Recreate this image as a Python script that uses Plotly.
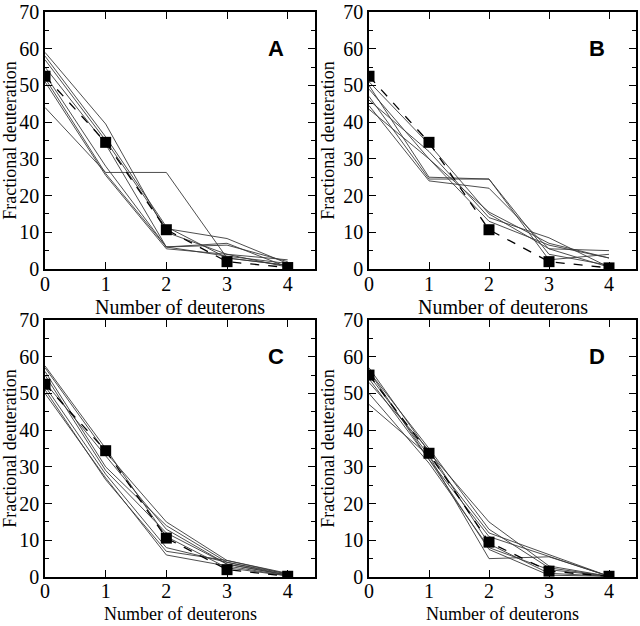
import plotly.graph_objects as go

x_vals = [0, 1, 2, 3, 4]

# Panel A
a_mean = [52.5, 34.5, 10.7, 2.0, 0.4]
a_lines = [
    [59, 39.5, 10, 4, 0.5],
    [58, 36, 11.5, 3, 1],
    [57, 35, 11, 8.3, 1.5],
    [55, 34, 6, 7, 0.5],
    [53, 28, 6, 6.5, 2],
    [51, 25.5, 5.5, 4, 2.5],
    [44, 26.3, 26.3, 3, 1],
    [52, 26, 6, 3.5, 1.5],
]
# Panel B
b_mean = [52.5, 34.5, 10.7, 2.0, 0.3]
b_lines = [
    [51, 34, 15, 5.5, 0.5],
    [50, 25, 24.5, 4, 1],
    [49, 30, 13, 6.5, 3],
    [47, 24.5, 24.5, 2.5, 4],
    [46, 32, 14, 8.5, 0.5],
    [44.5, 24, 22, 5.5, 5],
    [43.5, 30, 15.5, 7, 3],
]
# Panel C
c_mean = [52.5, 34.4, 10.6, 2.0, 0.2]
c_lines = [
    [57.5, 35, 11, 2.5, 0.3],
    [57, 34, 15, 4.5, 1],
    [56, 30, 14, 4, 0.8],
    [55, 29, 12, 3.5, 0.5],
    [52, 28, 8, 4, 0.5],
    [51, 26.5, 7, 4.5, 0.8],
    [50, 27, 6, 3, 0.3],
    [53, 33, 13, 3.5, 0.5],
]
# Panel D
d_mean = [55, 33.7, 9.5, 1.6, 0.2]
d_lines = [
    [57, 34, 15, 3, 0.2],
    [56, 35, 13, 2.5, 0.2],
    [55, 33, 12, 6, 0.2],
    [54, 32, 11, 5.5, 0.2],
    [53, 34.5, 9, 1, 0.2],
    [50, 31, 8, 2, 0.2],
    [47, 33, 5, 5.5, 0.2],
    [56, 32, 7.5, 0.5, 0.2],
]

panel_labels = ["A", "B", "C", "D"]
y_ticks = [0, 10, 20, 30, 40, 50, 60, 70]
x_ticks = [0, 1, 2, 3, 4]
x_title = "Number of deuterons"
y_title = "Fractional deuteration"

W, H = 640, 626
# (mean, lines, (left, right), (top, bottom), x-title y-pixel, anchor, label standoff)
panels = [
    (a_mean, a_lines, (45, 315), (12, 269), 307, "middle", -4),
    (b_mean, b_lines, (369, 636), (12, 269), 307, "middle", -4),
    (c_mean, c_lines, (45, 315), (320, 577), 626, "bottom", -5),
    (d_mean, d_lines, (369, 636), (320, 577), 626, "bottom", -5),
]

fig = go.Figure()
serif = "Liberation Serif, Times New Roman, serif"

for i, (mean, lines, (x0, x1), (yt, yb), ty, tanchor, tls) in enumerate(panels):
    n = "" if i == 0 else str(i + 1)
    xa, ya = "x" + n, "y" + n
    for ln in lines:
        fig.add_trace(go.Scatter(x=x_vals, y=ln, mode="lines", xaxis=xa, yaxis=ya,
                                 line=dict(color="#3a3a3a", width=0.9), showlegend=False))
    fig.add_trace(go.Scatter(x=x_vals, y=mean, mode="lines+markers", xaxis=xa, yaxis=ya,
                             line=dict(color="black", width=1.3, dash="dash"),
                             marker=dict(symbol="square", size=11, color="black"),
                             showlegend=False))
    axis_common = dict(showline=True, linecolor="black", linewidth=1.5, mirror="ticks",
                       ticks="inside", ticklen=7, tickwidth=1.2, tickcolor="black",
                       showgrid=False, zeroline=False, automargin=False,
                       ticklabeloverflow="allow",
                       tickfont=dict(family=serif, size=20, color="black"))
    fig.layout["xaxis" + n] = dict(axis_common, domain=[x0 / W, x1 / W], range=[0, 4.45],
                                   tickvals=x_ticks, anchor=ya, ticklabelstandoff=tls)
    fig.layout["yaxis" + n] = dict(axis_common, domain=[1 - yb / H, 1 - yt / H], range=[0, 70],
                                   tickvals=y_ticks, anchor=xa,
                                   minor=dict(dtick=5, ticks="inside", ticklen=4, tickcolor="black", tickwidth=1.2),
                                   title=dict(text=y_title, font=dict(family=serif, size=18, color="black"), standoff=4))
    fig.add_annotation(x=(x0 + x1) / 2 / W, y=1 - ty / H, xref="paper", yref="paper",
                       yanchor=tanchor, xanchor="center", text=x_title, showarrow=False,
                       font=dict(family=serif, size=20 if tanchor == "middle" else 18, color="black"))
    fig.add_annotation(x=3.8, y=60, xref=xa, yref=ya, text="<b>" + panel_labels[i] + "</b>",
                       showarrow=False, font=dict(family="Liberation Sans, Arial, sans-serif", size=22, color="black"))

fig.update_layout(width=W, height=H, margin=dict(l=0, r=0, t=0, b=0),
                  plot_bgcolor="white", paper_bgcolor="white")
fig.write_html("out.html", config={"displayModeBar": False},
               post_script="document.body.style.margin='0';")
